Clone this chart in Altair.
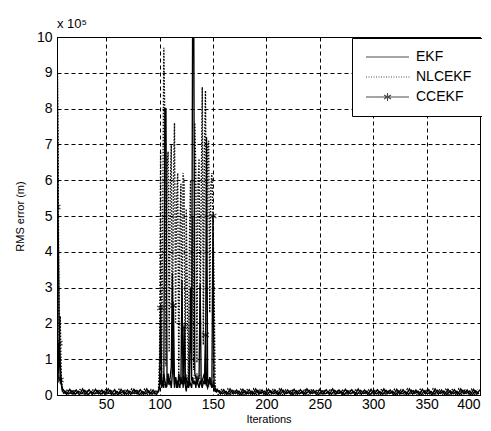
import altair as alt
import pandas as pd

# ---------------- data (values in units of 1e5 m) ----------------
SERIES = ["EKF", "NLCEKF", "CCEKF"]

# start-up transient
EKF_START_IT = [4, 5, 6, 7, 8, 9]
EKF_START = [11.0, 5.0, 2.1, 0.9, 0.35, 0.12]
NLC_START_IT = [4, 5, 6, 7, 8, 9, 10]
NLC_START = [10.5, 6.8, 1.3, 2.2, 0.5, 0.2, 0.08]
CC_START_IT = [4, 5, 6, 7, 8, 9, 10]
CC_START = [5.25, 0.45, 1.45, 0.42, 0.3, 0.15, 0.06]

# divergence burst, iterations 99..153
BURST_IT = list(range(99, 154))
EKF_BURST = [0.1, 0.2, 0.6, 0.3, 0.4, 0.2, 8.0, 8.0, 0.4, 0.6,
             0.3, 0.5, 0.8, 3.4, 0.8, 0.2, 0.5, 0.3, 0.2, 0.6,
             0.4, 0.3, 3.2, 0.2, 0.5, 0.3, 0.1, 0.4, 0.2, 0.3,
             3.0, 0.4, 11.0, 11.0, 0.6, 0.5, 0.3, 0.4, 0.5, 3.1,
             0.3, 0.4, 0.5, 0.6, 0.3, 7.2, 0.4, 0.3, 0.5, 0.4,
             0.2, 0.3, 0.2, 0.1, 0.1]
NLC_BURST = [0.1, 1.0, 6.8, 0.4, 5.2, 9.7, 7.6, 0.8, 6.3, 6.8,
             1.2, 5.8, 7.0, 0.6, 6.0, 7.6, 2.0, 5.5, 6.2, 0.3,
             4.6, 5.9, 1.1, 6.2, 5.9, 0.4, 5.2, 2.8, 0.2, 4.4,
             6.0, 1.0, 5.0, 0.7, 7.6, 6.2, 0.9, 5.9, 6.6, 2.1,
             5.6, 8.6, 1.4, 6.8, 8.5, 4.0, 6.9, 7.1, 2.3, 5.8,
             6.2, 5.0, 3.2, 0.3, 0.1]
CC_BURST = [0.1, 0.3, 2.43, 0.2, 0.3, 0.6, 0.4, 0.2, 0.33, 0.5,
            0.3, 0.4, 0.2, 0.6, 2.5, 0.3, 0.5, 0.2, 0.4, 0.3,
            0.2, 0.5, 0.3, 0.4, 1.9, 0.3, 0.47, 0.3, 0.2, 0.4,
            0.3, 0.2, 0.5, 0.3, 0.4, 0.2, 0.5, 0.3, 0.2, 0.4,
            0.3, 0.2, 0.4, 0.3, 1.68, 0.3, 0.2, 0.33, 0.4, 0.3,
            0.2, 5.0, 0.3, 0.2, 0.1]
CC_STAR_IT = [4, 5, 6, 7, 101, 107, 113, 123, 125, 135, 143, 146, 150]

# near-zero floor (sampled every 3 iterations)
EKF_FLOOR_A = [0.15, 0.01, 0.16, 0.02, 0.14, 0.00, 0.17, 0.02, 0.15, 0.01,
               0.16, 0.03, 0.14, 0.01, 0.17, 0.02, 0.15, 0.00, 0.16, 0.02,
               0.14, 0.01, 0.16, 0.03, 0.15, 0.01, 0.17, 0.02, 0.14, 0.01]
EKF_FLOOR_B = [0.16, 0.02, 0.15, 0.01, 0.17, 0.03, 0.14, 0.00, 0.16, 0.02,
               0.15, 0.01, 0.17, 0.02, 0.14, 0.01, 0.16, 0.03, 0.15, 0.00,
               0.17, 0.02, 0.14, 0.01, 0.16, 0.02, 0.15, 0.01, 0.17, 0.03,
               0.14, 0.00, 0.16, 0.02, 0.15, 0.01, 0.17, 0.02, 0.14, 0.01,
               0.16, 0.03, 0.15, 0.00, 0.17, 0.02, 0.14, 0.01, 0.16, 0.02,
               0.15, 0.01, 0.17, 0.03, 0.14, 0.00, 0.16, 0.02, 0.15, 0.01,
               0.17, 0.02, 0.14, 0.01, 0.16, 0.03, 0.15, 0.00, 0.17, 0.02,
               0.14, 0.01, 0.16, 0.02, 0.15, 0.01, 0.17, 0.03, 0.14, 0.00,
               0.16, 0.02, 0.15]
NLC_FLOOR_A = [0.02, 0.16, 0.01, 0.15, 0.03, 0.17, 0.00, 0.14, 0.02, 0.16,
               0.01, 0.15, 0.02, 0.17, 0.01, 0.14, 0.03, 0.16, 0.00, 0.15,
               0.02, 0.17, 0.01, 0.14, 0.02, 0.16, 0.01, 0.15, 0.03]
NLC_FLOOR_B = [0.01, 0.15, 0.02, 0.17, 0.00, 0.14, 0.03, 0.16, 0.01, 0.15,
               0.02, 0.17, 0.01, 0.14, 0.02, 0.16, 0.00, 0.15, 0.03, 0.17,
               0.01, 0.14, 0.02, 0.16, 0.01, 0.15, 0.02, 0.17, 0.00, 0.14,
               0.03, 0.16, 0.01, 0.15, 0.02, 0.17, 0.01, 0.14, 0.02, 0.16,
               0.00, 0.15, 0.03, 0.17, 0.01, 0.14, 0.02, 0.16, 0.01, 0.15,
               0.02, 0.17, 0.00, 0.14, 0.03, 0.16, 0.01, 0.15, 0.02, 0.17,
               0.01, 0.14, 0.02, 0.16, 0.00, 0.15, 0.03, 0.17, 0.01, 0.14,
               0.02, 0.16, 0.01, 0.15, 0.02, 0.17, 0.00, 0.14, 0.03, 0.16,
               0.01, 0.15]
CC_FLOOR_A = [0.10, 0.03, 0.12, 0.02, 0.11, 0.04, 0.13, 0.01, 0.10, 0.03,
              0.12, 0.02, 0.11, 0.04, 0.13, 0.01, 0.10, 0.03, 0.12, 0.02,
              0.11, 0.04, 0.13, 0.01, 0.10, 0.03, 0.12, 0.02, 0.11]
CC_FLOOR_B = [0.12, 0.03, 0.10, 0.02, 0.13, 0.04, 0.11, 0.01, 0.12, 0.03,
              0.10, 0.02, 0.13, 0.04, 0.11, 0.01, 0.12, 0.03, 0.10, 0.02,
              0.13, 0.04, 0.11, 0.01, 0.12, 0.03, 0.10, 0.02, 0.13, 0.04,
              0.11, 0.01, 0.12, 0.03, 0.10, 0.02, 0.13, 0.04, 0.11, 0.01,
              0.12, 0.03, 0.10, 0.02, 0.13, 0.04, 0.11, 0.01, 0.12, 0.03,
              0.10, 0.02, 0.13, 0.04, 0.11, 0.01, 0.12, 0.03, 0.10, 0.02,
              0.13, 0.04, 0.11, 0.01, 0.12, 0.03, 0.10, 0.02, 0.13, 0.04,
              0.11, 0.01, 0.12, 0.03, 0.10, 0.02, 0.13, 0.04, 0.11, 0.01,
              0.12, 0.03]

X_TICKS = [50, 100, 150, 200, 250, 300, 350, 400]
Y_TICKS = [0, 1, 2, 3, 4, 5, 6, 7, 8, 9, 10]


def every3(start, vals):
    return [start + 3 * i for i in range(len(vals))]


rows = []


def add(series, its, vals):
    for i, v in zip(its, vals):
        rows.append({"it": i, "val": v, "series": series})


add("EKF", EKF_START_IT, EKF_START)
add("EKF", every3(10, EKF_FLOOR_A), EKF_FLOOR_A)
add("EKF", BURST_IT, EKF_BURST)
add("EKF", every3(154, EKF_FLOOR_B), EKF_FLOOR_B)
add("NLCEKF", NLC_START_IT, NLC_START)
add("NLCEKF", every3(11, NLC_FLOOR_A), NLC_FLOOR_A)
add("NLCEKF", BURST_IT, NLC_BURST)
add("NLCEKF", every3(155, NLC_FLOOR_B), NLC_FLOOR_B)
add("CCEKF", CC_START_IT, CC_START)
add("CCEKF", every3(12, CC_FLOOR_A), CC_FLOOR_A)
add("CCEKF", BURST_IT, CC_BURST)
add("CCEKF", every3(156, CC_FLOOR_B), CC_FLOOR_B)
df = pd.DataFrame(rows)
df = df[df["it"] <= 400]
df["style"] = df["series"]

cc = df[df["series"] == "CCEKF"]
stars = cc[cc["it"].isin(CC_STAR_IT)]

# one hidden row per series, only to drive the legend (clipped away)
legend_df = pd.DataFrame({"it": [200, 200, 200], "val": [-5, -5, -5], "name": SERIES})

# ---------------- styling helpers ----------------
FONT = "Liberation Sans"
ASTERISK = "M0,-1V1M-0.87,-0.5L0.87,0.5M-0.87,0.5L0.87,-0.5"
dots = "".join(f"M{-1 + 0.5 * k:.2f},0H{-0.8 + 0.5 * k:.2f}" for k in range(18))
LEG_PATHS = [
    "M-1,0H7.6",
    dots,
    "M-1,0H7.6M3.3,-0.8V0.8M2.61,-0.4L3.99,0.4M2.61,0.4L3.99,-0.4",
]

xscale = alt.Scale(domain=[4, 400], nice=False, zero=False)
yscale = alt.Scale(domain=[0, 10], nice=False)

xaxis = alt.Axis(values=X_TICKS, title="Iterations", titleFontSize=11,
                 titlePadding=2, labelPadding=2, labelFontSize=14)
yaxis = alt.Axis(values=Y_TICKS, tickCount=11, format="d", title="RMS error (m)",
                 titleFontSize=11, titlePadding=11, labelPadding=5,
                 labelOverlap=False, labelFontSize=14)

X = alt.X("it:Q", scale=xscale, axis=xaxis)
Y = alt.Y("val:Q", scale=yscale, axis=yaxis)

lines = alt.Chart(df).mark_line(clip=True, strokeWidth=1.35, color="black").encode(
    x=X, y=Y,
    strokeDash=alt.StrokeDash("style:N", legend=None,
                              scale=alt.Scale(domain=SERIES,
                                              range=[[1, 0], [1.5, 1.5], [1, 0]])),
    order="it:Q",
)

markers = alt.Chart(stars).mark_point(
    clip=True, filled=False, shape=ASTERISK, size=64, strokeWidth=1.2, color="black"
).encode(x=X, y=Y)

legend_layer = alt.Chart(legend_df).mark_point(
    clip=True, filled=False, strokeWidth=1, color="black", size=100
).encode(
    x=X, y=Y,
    shape=alt.Shape(
        "name:N",
        scale=alt.Scale(domain=SERIES, range=LEG_PATHS),
        legend=alt.Legend(
            title=None, orient="none", legendX=295, legendY=1,
            labelFont=FONT, labelFontSize=14, labelColor="black",
            labelOffset=38, symbolSize=100, symbolStrokeWidth=1.1,
            symbolStrokeColor="black", symbolFillColor="transparent",
            padding=12, rowPadding=6, strokeColor="black", fillColor="white",
        ),
    ),
)

chart = alt.layer(lines, markers, legend_layer).resolve_scale(
    shape="independent", strokeDash="independent"
).properties(
    width=423, height=358,
    title=alt.TitleParams("x 10⁵", anchor="start", frame="group", fontSize=13,
                          fontWeight="normal", font=FONT, color="black", offset=-1),
    autosize=alt.AutoSizeParams(type="none"),
    padding={"left": 49, "top": 29, "right": 2, "bottom": 28},
).configure_view(stroke="black", strokeWidth=1).configure_axis(
    grid=True, gridColor="black", gridDash=[4, 3], gridWidth=1, gridOpacity=1,
    domainColor="black", domainWidth=1, ticks=False,
    labelFont=FONT, labelColor="black",
    titleFont=FONT, titleColor="black", titleFontWeight="normal",
)

chart.save("out.html", embed_options={"renderer": "svg", "actions": False})
